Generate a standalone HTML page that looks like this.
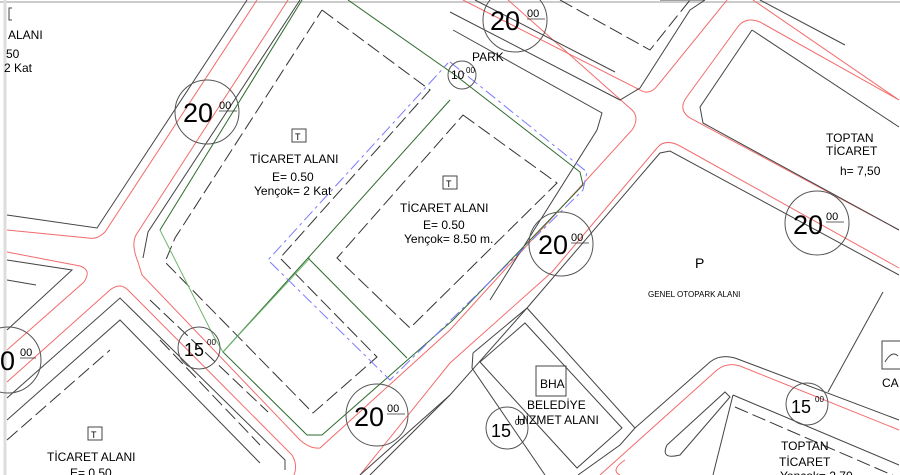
<!DOCTYPE html>
<html><head><meta charset="utf-8"><style>
html,body{margin:0;padding:0;background:#fff;}
svg{display:block;}
text{font-family:"Liberation Sans",sans-serif;fill:#000;}
</style></head><body>
<svg width="900" height="475" viewBox="0 0 900 475" xmlns="http://www.w3.org/2000/svg">
<rect width="900" height="475" fill="#fff"/>
<line x1="0" y1="2" x2="900" y2="2" stroke="#ccc" stroke-width="2"/>
<line x1="5" y1="0" x2="5" y2="475" stroke="#ddd" stroke-width="3"/>
<g fill="none" stroke="#f26c6c" stroke-width="1">
<path d="M257,0 L105,232 Q97,240 88,238 L7,230"/>
<path d="M288,0 L136,235 Q131,245 138,262 L142,275 L300,440 Q310,449 320,448 L450,330 L632,130 Q640,118 632,110 L508,0"/>
<path d="M463,0 L640,90 Q650,96 658,85 L727,0"/>
<path d="M7,252 L80,266 Q92,270 84,282 L7,350"/>
<path d="M7,382 L110,290 Q120,282 128,290 L292,455 Q298,465 294,475"/>
<path d="M360,475 L450,363 L552,272 L657,148 Q665,138 680,146 L899,268"/>
<path d="M899,230 L690,118 Q678,110 686,98 L737,28 Q745,16 760,22 L899,100"/>
<path d="M753,0 L899,100" />
<path d="M600,475 L717,370 Q727,362 740,366 L899,430"/>
<path d="M620,475 Q610,470 625,460"/>
</g>
<g fill="none" stroke="#444" stroke-width="1">
<path d="M247,0 L97,228 L7,215"/>
<path d="M300,0 L148,232 L143,258"/>
<path d="M7,260 L72,270 L7,330"/>
<path d="M7,280 L36,285"/>
<path d="M7,398 L120,298 L285,460 L285,470"/>
<path d="M7,420 L120,320 L260,463"/>
<path d="M450,12 L620,100 L640,88 L690,10 L705,0"/>
<path d="M475,0 L615,72"/>
<path d="M453,30 L602,113 L597,130 L490,300"/>
<path d="M370,475 L450,395 L527,308 L660,153 L670,151 L899,275"/>
<path d="M752,30 L899,127"/>
<path d="M752,30 L700,107 L703,123 L899,230"/>
<path d="M527,308 L635,428 L620,445 L578,475"/>
<path d="M473,353 L472,368 L545,475"/>
<path d="M527,308 L473,353"/>
<path d="M525,323 L622,428 L577,468 L480,362 Z"/>
<path d="M450,395 L360,475"/>
<path d="M635,428 L710,362 Q720,354 735,358 L899,420"/>
<path d="M883,292 L828,392"/>
<path d="M667,445 L725,392 L730,397 L680,455 Q660,460 667,445"/>
<path d="M733,395 L899,465"/>
<path d="M733,395 L713,475"/>
<path d="M760,0 L845,45"/>
<path d="M660,0 L705,0"/>
</g>
<g fill="none" stroke="#333" stroke-width="1" stroke-dasharray="14,5">
<path d="M322,10 L430,90 L280,258 L377,357 L313,413 L165,262 L175,238 L322,10"/>
<path d="M463,115 L557,183 L410,328 L337,258 Z"/>
<path d="M160,340 L260,445"/>
<path d="M150,300 L268,412"/>
<path d="M735,407 L899,478"/>
<path d="M560,0 L650,50 L690,0"/>
<path d="M7,440 L110,350"/>
</g>
<g fill="none" stroke="#2e6b2e" stroke-width="1">
<path d="M348,0 L455,75 L580,172 L583,185 L453,320 L322,435 L307,435 L223,352 L308,258 L450,100"/>
<path d="M308,258 L407,358"/>
<path d="M302,0 L160,230"/>
</g>
<path d="M160,230 L213,335 L223,352" fill="none" stroke="#6db56d" stroke-width="1"/>
<path d="M223,352 L310,258" fill="none" stroke="#6db56d" stroke-width="1"/>
<path d="M450,62 L587,172 L583,190 L390,380 L268,260 L448,63" fill="none" stroke="#7a7aff" stroke-width="1" stroke-dasharray="12,4,3,4"/>
<g fill="none" stroke="#555" stroke-width="1">
<circle cx="515" cy="20" r="32"/><circle cx="462" cy="75" r="14"/>
<circle cx="207" cy="112" r="32"/><circle cx="561" cy="244" r="32"/>
<circle cx="817" cy="223" r="32"/><circle cx="199" cy="348" r="21"/>
<circle cx="8" cy="360" r="33"/><circle cx="377" cy="415" r="31"/>
<circle cx="507" cy="428" r="21"/><circle cx="807" cy="404" r="21"/>
</g>
<g font-size="27">
<text x="490" y="30">20</text><text x="183" y="122">20</text>
<text x="538" y="254">20</text><text x="793" y="234">20</text>
<text x="354" y="426">20</text><text x="-15" y="370">20</text>
</g>
<g font-size="11">
<text x="527" y="17">00</text><text x="219" y="109">00</text>
<text x="571" y="241">00</text><text x="826" y="220">00</text>
<text x="387" y="412">00</text><text x="20" y="356">00</text>
</g>
<g font-size="18">
<text x="184" y="356">15</text><text x="491" y="437">15</text><text x="791" y="413">15</text>
</g>
<g font-size="8"><text x="207" y="345">00</text><text x="515" y="425">00</text><text x="815" y="402">00</text><text x="466" y="73">00</text></g>
<text x="451" y="79" font-size="12">10</text>
<g stroke="#333" stroke-width="0.8">
<line x1="527" y1="19" x2="545" y2="19"/><line x1="219" y1="111" x2="237" y2="111"/>
<line x1="571" y1="243" x2="589" y2="243"/><line x1="826" y1="222" x2="844" y2="222"/>
<line x1="387" y1="414" x2="405" y2="414"/><line x1="20" y1="358" x2="36" y2="358"/>
</g>
<g font-size="12">
<text x="8" y="39">ALANI</text><text x="6" y="58">50</text><text x="4" y="72">2 Kat</text>
<text x="472" y="61">PARK</text>
<text x="250" y="163">TİCARET ALANI</text><text x="272" y="181">E= 0.50</text><text x="254" y="195">Yençok= 2 Kat</text>
<text x="400" y="212">TİCARET ALANI</text><text x="423" y="229">E= 0.50</text><text x="404" y="243">Yençok= 8.50 m.</text>
<text x="826" y="142">TOPTAN</text><text x="826" y="155">TİCARET</text><text x="840" y="175">h= 7,50</text>
<text x="540" y="388">BHA</text><text x="527" y="409">BELEDİYE</text><text x="517" y="424">HİZMET ALANI</text>
<text x="781" y="450">TOPTAN</text><text x="779" y="466">TİCARET</text><text x="780" y="480">Yençok= 2.70</text>
<text x="882" y="387">CA</text>
<text x="47" y="461">TİCARET ALANI</text><text x="70" y="477">E= 0.50</text>
</g>
<text x="695" y="268" font-size="14">P</text>
<text x="648" y="297" font-size="8">GENEL OTOPARK ALANI</text>
<g fill="none" stroke="#444" stroke-width="1">
<rect x="292" y="129" width="14" height="13"/><rect x="443" y="176" width="14" height="13"/>
<rect x="536" y="366" width="30" height="30"/><rect x="88" y="427" width="14" height="13"/>
<rect x="882" y="341" width="20" height="28"/><path d="M885,362 Q892,350 898,356"/>
<path d="M12,8 L9,8 L9,20 L12,20"/>
</g>
<g font-size="9"><text x="295" y="140">T</text><text x="446" y="187">T</text><text x="91" y="438">T</text></g>
</svg>
</body></html>
